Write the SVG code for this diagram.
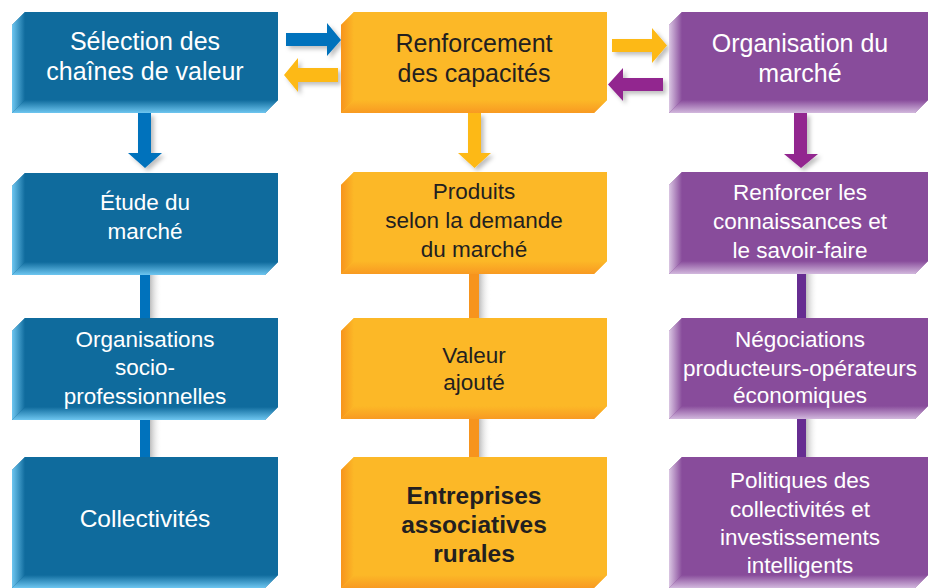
<svg xmlns="http://www.w3.org/2000/svg" width="929" height="588" viewBox="0 0 929 588">
<style>
  text { font-family: "Liberation Sans", Arial, sans-serif; text-anchor: middle; }
  .t1 { font-size: 25px; }
  .t2 { font-size: 22.5px; }
  .t3 { font-size: 24.5px; }
  .w { fill: #ffffff; }
  .k { fill: #231f20; }
  .bold { font-weight: bold; font-size: 24.5px; }
  .bF { fill: #0f6b9d; } .bL { fill: url(#bLeft); } .bB { fill: url(#bBot); }
  .yF { fill: #fcb827; } .yL { fill: url(#yLeft); } .yB { fill: url(#yBot); }
  .pF { fill: #884c9b; } .pL { fill: url(#pLeft); } .pB { fill: url(#pBot); }
  .arB { fill: #0072bc; } .arY { fill: #fdb913; } .arP { fill: #92278f; }
  .barB { fill: #0072bc; } .barY { fill: #f7941d; } .barP { fill: #662d91; }
  .sh { fill: url(#shad); }
</style>
<defs>
  <linearGradient id="bLeft" x1="0" y1="0" x2="1" y2="0"><stop offset="0" stop-color="#6ec6f0"/><stop offset="1" stop-color="#0f6b9d"/></linearGradient>
  <linearGradient id="bBot" x1="0" y1="0" x2="0" y2="1"><stop offset="0" stop-color="#0f6b9d"/><stop offset="1" stop-color="#6ec6f0"/></linearGradient>
  <linearGradient id="yLeft" x1="0" y1="0" x2="1" y2="0"><stop offset="0" stop-color="#f7941d"/><stop offset="1" stop-color="#fcb827"/></linearGradient>
  <linearGradient id="yBot" x1="0" y1="0" x2="0" y2="1"><stop offset="0" stop-color="#fcb827"/><stop offset="1" stop-color="#f89a22"/></linearGradient>
  <linearGradient id="pLeft" x1="0" y1="0" x2="1" y2="0"><stop offset="0" stop-color="#dac6e3"/><stop offset="1" stop-color="#884c9b"/></linearGradient>
  <linearGradient id="pBot" x1="0" y1="0" x2="0" y2="1"><stop offset="0" stop-color="#884c9b"/><stop offset="1" stop-color="#d2b8dd"/></linearGradient>
  <linearGradient id="shad" x1="0" y1="0" x2="1" y2="0"><stop offset="0" stop-color="#bdbdbd"/><stop offset="1" stop-color="#ffffff" stop-opacity="0"/></linearGradient>
  <filter id="ds" x="-30%" y="-30%" width="160%" height="160%"><feDropShadow dx="3" dy="3" stdDeviation="2" flood-color="#000" flood-opacity="0.25"/></filter>
</defs>

<g id="connectors">
  <polygon class="arB" filter="url(#ds)" points="286,33 327,33 327,23 341,40 327,56 327,46 286,46"/>
  <polygon class="arY" filter="url(#ds)" points="338,68 298,68 298,58 284,75 298,92 298,82 338,82"/>
  <polygon class="arY" filter="url(#ds)" points="612,39 652,39 652,28 667,45.5 652,63 652,52 612,52"/>
  <polygon class="arP" filter="url(#ds)" points="663,78 623,78 623,68 608,84.5 623,101 623,91 663,91"/>
  <polygon class="arB" filter="url(#ds)" points="138,113 151,113 151,153 162,153 145,168 128,153 138,153"/>
  <polygon class="arY" filter="url(#ds)" points="468,113 481,113 481,153 491,153 474.5,168 458,153 468,153"/>
  <polygon class="arP" filter="url(#ds)" points="794,113 807,113 807,154 818,154 801,168 784,154 794,154"/>
  <rect class="sh" x="150" y="275" width="12" height="43"/>
  <rect class="sh" x="150" y="420" width="12" height="37"/>
  <rect class="barB" x="140" y="275" width="10" height="43"/>
  <rect class="barB" x="140" y="420" width="10" height="37"/>
  <rect class="sh" x="479" y="274" width="12" height="44"/>
  <rect class="sh" x="479" y="419" width="12" height="38"/>
  <rect class="barY" x="469" y="274" width="10" height="44"/>
  <rect class="barY" x="469" y="419" width="10" height="38"/>
  <rect class="sh" x="806" y="274" width="12" height="44"/>
  <rect class="sh" x="806" y="419" width="12" height="38"/>
  <rect class="barP" x="797" y="274" width="9" height="44"/>
  <rect class="barP" x="797" y="419" width="9" height="38"/>
</g>

<g id="selection-chaines">
  <polygon class="bF" points="12,25 25,12 278,12 278,100 265,113 12,113"/>
  <polygon class="bL" points="12,25 25,12 25,100 12,113"/>
  <polygon class="bB" points="25,100 278,100 265,113 12,113"/>
  <text class="t1 w" x="145" y="50">Sélection des</text>
  <text class="t1 w" x="145" y="80">chaînes de valeur</text>
</g>
<g id="etude-marche">
  <polygon class="bF" points="12,186 25,173 278,173 278,262 265,275 12,275"/>
  <polygon class="bL" points="12,186 25,173 25,262 12,275"/>
  <polygon class="bB" points="25,262 278,262 265,275 12,275"/>
  <text class="t2 w" x="145" y="210">Étude du</text>
  <text class="t2 w" x="145" y="239">marché</text>
</g>
<g id="organisations-socio">
  <polygon class="bF" points="12,331 25,318 278,318 278,407 265,420 12,420"/>
  <polygon class="bL" points="12,331 25,318 25,407 12,420"/>
  <polygon class="bB" points="25,407 278,407 265,420 12,420"/>
  <text class="t2 w" x="145" y="347">Organisations</text>
  <text class="t2 w" x="145" y="375">socio-</text>
  <text class="t2 w" x="145" y="404">professionnelles</text>
</g>
<g id="collectivites">
  <polygon class="bF" points="12,470 25,457 278,457 278,575 265,588 12,588"/>
  <polygon class="bL" points="12,470 25,457 25,575 12,588"/>
  <polygon class="bB" points="25,575 278,575 265,588 12,588"/>
  <text class="t3 w" x="145" y="527">Collectivités</text>
</g>

<g id="renforcement-capacites">
  <polygon class="yF" points="341,25 354,12 607,12 607,100 594,113 341,113"/>
  <polygon class="yL" points="341,25 354,12 354,100 341,113"/>
  <polygon class="yB" points="354,100 607,100 594,113 341,113"/>
  <text class="t1 k" x="474" y="52">Renforcement</text>
  <text class="t1 k" x="474" y="82">des capacités</text>
</g>
<g id="produits-demande">
  <polygon class="yF" points="341,185 354,172 607,172 607,261 594,274 341,274"/>
  <polygon class="yL" points="341,185 354,172 354,261 341,274"/>
  <polygon class="yB" points="354,261 607,261 594,274 341,274"/>
  <text class="t2 k" x="474" y="199">Produits</text>
  <text class="t2 k" x="474" y="228">selon la demande</text>
  <text class="t2 k" x="474" y="257">du marché</text>
</g>
<g id="valeur-ajoute">
  <polygon class="yF" points="341,331 354,318 607,318 607,406 594,419 341,419"/>
  <polygon class="yL" points="341,331 354,318 354,406 341,419"/>
  <polygon class="yB" points="354,406 607,406 594,419 341,419"/>
  <text class="t2 k" x="474" y="363">Valeur</text>
  <text class="t2 k" x="474" y="390">ajouté</text>
</g>
<g id="entreprises-associatives">
  <polygon class="yF" points="341,470 354,457 607,457 607,575 594,588 341,588"/>
  <polygon class="yL" points="341,470 354,457 354,575 341,588"/>
  <polygon class="yB" points="354,575 607,575 594,588 341,588"/>
  <text class="bold k" x="474" y="504">Entreprises</text>
  <text class="bold k" x="474" y="533">associatives</text>
  <text class="bold k" x="474" y="562">rurales</text>
</g>

<g id="organisation-marche">
  <polygon class="pF" points="669,25 682,12 928,12 928,100 915,113 669,113"/>
  <polygon class="pL" points="669,25 682,12 682,100 669,113"/>
  <polygon class="pB" points="682,100 928,100 915,113 669,113"/>
  <text class="t1 w" x="800" y="52">Organisation du</text>
  <text class="t1 w" x="800" y="82">marché</text>
</g>
<g id="renforcer-connaissances">
  <polygon class="pF" points="669,185 682,172 928,172 928,261 915,274 669,274"/>
  <polygon class="pL" points="669,185 682,172 682,261 669,274"/>
  <polygon class="pB" points="682,261 928,261 915,274 669,274"/>
  <text class="t2 w" x="800" y="200">Renforcer les</text>
  <text class="t2 w" x="800" y="229">connaissances et</text>
  <text class="t2 w" x="800" y="258">le savoir-faire</text>
</g>
<g id="negociations">
  <polygon class="pF" points="669,331 682,318 928,318 928,406 915,419 669,419"/>
  <polygon class="pL" points="669,331 682,318 682,406 669,419"/>
  <polygon class="pB" points="682,406 928,406 915,419 669,419"/>
  <text class="t2 w" x="800" y="347">Négociations</text>
  <text class="t2 w" x="800" y="376">producteurs-opérateurs</text>
  <text class="t2 w" x="800" y="403">économiques</text>
</g>
<g id="politiques-collectivites">
  <polygon class="pF" points="669,470 682,457 928,457 928,575 915,588 669,588"/>
  <polygon class="pL" points="669,470 682,457 682,575 669,588"/>
  <polygon class="pB" points="682,575 928,575 915,588 669,588"/>
  <text class="t2 w" x="800" y="488">Politiques des</text>
  <text class="t2 w" x="800" y="517">collectivités et</text>
  <text class="t2 w" x="800" y="545">investissements</text>
  <text class="t2 w" x="800" y="573">intelligents</text>
</g>
</svg>
